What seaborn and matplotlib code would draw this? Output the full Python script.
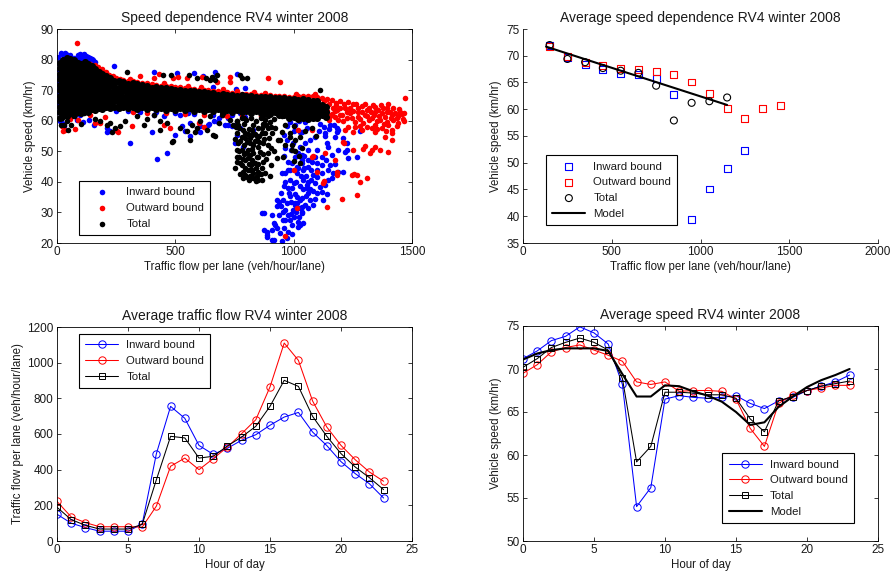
import matplotlib
matplotlib.use("Agg")
import matplotlib.pyplot as plt
import seaborn as sns
import numpy as np

sns.set_style("white")
plt.rcParams['font.family'] = ['Liberation Sans', 'DejaVu Sans']
plt.rcParams['text.color'] = '#1a1a1a'
plt.rcParams['axes.labelcolor'] = '#1a1a1a'
plt.rcParams['xtick.color'] = '#1a1a1a'
plt.rcParams['ytick.color'] = '#1a1a1a'

BLUE = '#0000ff'
RED = '#ff0000'
BLACK = '#000000'

series_names = ['Inward bound', 'Outward bound', 'Total']

# ---------------- Panel 1: scatter of speed vs flow ----------------
inward_pts = [
    (4,63),(5,65),(4,67),(5,69),(4,71),(5,73),(4,75),(5,77),(4,79),(6,81),(15,82),(25,81.6),(32,82.2),
    (40,81.8),(48,80.9),(55,81.4),(20,79.8),(35,80.4),(62,80.2),(72,80.6),(82,80.2),(90,81.4),(98,81.9),
    (106,81.2),(114,81.7),(122,81.3),(130,81.0),(138,80.6),(146,80.2),(154,79.7),(100,80.3),(118,80.2),
    (134,79.8),(160,79.3),(88,79.6),(15,61),(22,59.3),(28,58.4),(42,61.6),(49,63.4),(85,60.3),(99,62),
    (111,59.7),(134,60.3),(155,58.7),(182,64),(208,64.9),(211,57.6),(225,56.5),(246,66.3),(239,77.8),(12,60),
    (408,75.8),(505,75.5),(578,75.7),(615,74.5),(659,71.1),(667,76.0),(672,74.8),(759,75.2),(794,70.6),(756,70.4),
    (210,56.4),(310,52.8),(421,47.4),(466,49.3),(400,56.4),(499,55.3),(542,56.5),(563,55.1),(606,58.2),
    (528,58.2),(352,63.6),(408,62),(451,61.4),(520,61.9),(553,62.5),(562,59.3),(604,56.3),(638,58.6),
    (680,59.6),(710,58.6),(739,62.5),(752,58.6),(773,57.6),(794,61.2),(697,62.8),(722,60.9),(662,59.8),
    (746,64.7),(683,60.9),(641,59.0),(775,62.5),(722,58.7),(760,55.4),(754,52.7),(739,58.2),(787,51.5),(829,57),
    (350,62.9),(420,62.7),(500,62.5),(580,62.2),(660,62.0),(740,61.8),(300,63.2),(250,63.3),
    (984,59.6),(1006,58.6),(1035,56.3),(972,58.2),(1000,56.5),(958,55.4),(1056,57.6),(1106,56.5),(1134,54.9),
    (1155,58.7),(1183,57.6),(1021,59.8),(1085,62),(972,53.8),(1048,59.7),(1111,59.0),(1130,58.0),(1150,57.2),
    (1170,58.6),(1187,57.0),(1280,56.6),(1027,56.4),(1090,54.8),(1132,55.9),(1174,54.8),(1182,56.4),(1210,54.2),
    (1225,50.5),(1268,48.1),(1224,52.6),
    (1146,51.5),(1097,50.4),(1062,50.4),(1019,49.3),(1034,47.1),(1076,46.6),(1118,48.2),(1161,48.8),(1189,50.4),
    (1231,47.7),(1217,49.9),(1041,43.9),(1013,42.8),(1083,42.2),(1118,42.8),(1146,43.9),(1167,42.8),(1189,43.3),
    (1210,43.3),(1062,40.0),(1090,39.5),(1111,38.4),(1132,38.9),(1146,40.6),(1161,41.1),(1055,37.9),(1062,36.3),
    (1118,36.8),(1034,34.6),(1069,34.1),(1090,34.3),(1125,34.1),(1013,33.0),(1048,32.4),(1027,31.3),(1006,30.8),
    (1034,29.7),(1019,27.0),(1013,45.0),(1062,45.0),(1097,46.1),(1048,52.6),(1069,53.7),(1139,52.6),
    (867,29.7),(886,23.7),(910,24.2),(886,21.9),(918,21.0),(921,25.9),(946,36.3),(963,30.8),(977,29.2),(984,27.6),
    (992,25.9),(963,27.6),(998,30.8),(1007,33.2),(1027,34.1),(1034,31.9),(977,37.9),(984,40.6),(963,42.8),
    (977,46.6),(992,46.1),(984,43.9),(1034,46.1),(1034,48.8),(1027,51.5),(998,52.6),(970,21.5),(953,34.1),
    (939,33.5),(1006,32.4),(1034,30.2),(1041,26.5),(1022,28.6),(1019,25.3),
    (951,42.9),(958,38.5),(979,36.3),(930,32),(908,29.3),(915,26.7),(944,23.3),(887,22.7),(908,20.9),(873,24.4),
    (873,29.8),(930,34.2),
    (995,38),(1010,40),(1025,38.5),(1040,40.5),(1050,42),(1075,40.5),(1080,37),(1100,41.5),(1005,36),(990,33.5),
    (1050,35.5),(1060,31.5),(1080,32.5),(1100,36.5),(1020,44.5),(1045,48.5),(1090,48),(1120,45.5),(1135,47),
    (1155,45.5),(1175,46),(1005,48),(990,50.5),(960,48.5),(965,51),(1000,28.5),(955,30),(940,29),(930,25),
    (960,25),(975,23.5),(950,20.5),(995,23),(1040,37.5),(1140,36),(1100,44),
    (970,33),(985,35.5),(1000,39.5),(1015,35),(1030,42),(1045,44.5),(1060,47),(1075,44),(1010,30),(1025,26),
    (990,29.5),(955,27.5),(945,32),(965,40),(975,44),(1055,39),(1070,37.5),
]

outward_pts = [
    (85,85.4),
    (140,78.4),(160,78.3),(175,77.6),(190,76.8),(205,75.8),(220,75.1),(235,74.5),(250,74.1),(265,73.7),(280,73.4),
    (300,73.0),(320,72.9),(340,72.6),(360,72.4),(380,72.2),(400,71.9),(420,71.7),(440,71.5),(460,71.3),(480,71.2),
    (500,71.0),(520,70.9),(540,70.6),(560,70.5),(580,70.3),(600,70.2),(620,70.0),(640,69.9),(660,69.8),(680,69.6),
    (700,69.5),(720,69.3),(740,69.2),(760,69.0),(780,68.9),(800,68.9),(820,68.7),(840,68.5),(860,68.5),(880,68.4),
    (900,68.3),(920,68.2),(940,68.1),(960,68.0),(980,67.9),(1000,67.9),(1020,68.0),(1040,68.1),(1060,68.0),
    (1080,68.0),(1100,67.8),(1120,67.5),(1140,67.0),
    (310,73.8),(450,72.3),(610,71),(760,69.8),(880,69.2),(1010,68.6),(1090,68.6),(555,71.4),(700,70.3),
    (513,74.4),(548,73.9),(611,74.4),(676,72.8),(731,74.4),(731,72.8),(893,73.9),(942,72.8),(834,69.5),
    (408,74),(490,74),(430,75.4),(352,74.7),
    (21,58.2),(35,57.1),(77,57.3),(87,60.3),(155,63.6),(204,61.1),(254,56.5),(317,58.2),(451,58.7),(479,57.6),
    (599,59.2),(623,57.8),(718,61.4),(56,60.5),(183,59.2),(27,56.6),(259,56.4),(139,61.9),(161,59.2),
    (320,63.0),(380,62.6),(460,62.4),(540,62.2),(620,62.0),(700,61.8),(780,61.6),(860,61.7),
    (1020,57),(1076,57),(1130,66.6),(1150,65.6),(1165,64.3),(1140,63.2),(1160,62.3),(1180,65.9),(1185,63.4),
    (1175,61.2),(1150,60.2),(1195,62.0),(1125,64.8),(1130,61.5),
    (1160,66.8),(1195,66.3),(1230,66.0),(1178,65.1),(1212,65.4),(1252,65.4),(1287,64.9),(1336,65.0),(1370,65.2),
    (1400,65.5),(1196,64.3),(1217,64.1),(1270,64.0),(1308,63.6),(1358,63.6),(1379,64.1),(1420,64.3),(1445,63.8),
    (1175,63.3),(1238,62.6),(1250,63.3),(1290,62.9),(1325,62.7),(1345,63.0),(1395,62.9),(1407,63.0),(1428,62.4),
    (1456,62.1),(1203,61.9),(1273,61.3),(1301,61.9),(1329,60.8),(1360,61.6),(1385,61.3),(1440,61.5),(1225,61.0),
    (1155,61.4),(1189,60.2),(1259,59.7),(1294,59.2),(1344,58.6),(1365,60.2),(1393,59.7),(1421,60.2),(1442,59.2),
    (1210,59.8),(1320,60.1),(1460,60.5),(1231,58.1),(1372,57.5),(1414,57.0),(1280,58.3),(1310,58.0),(1400,58.6),
    (1435,58.2),(1470,67.5),(1465,62.5),(1465,60.0),
    (1265,65.6),(1300,65.6),(1320,64.2),(1345,64.6),(1395,64.3),(1240,64.0),(1225,63.0),(1270,62.8),(1310,61.5),
    (1340,62.0),(1375,62.6),(1415,61.8),(1450,62.9),(1245,60.8),(1280,60.6),(1350,59.9),(1380,59.0),(1410,60.9),
    (1435,60.8),(1260,57.8),(1330,57.5),(1390,56.6),(1350,57.2),
    (1217,57),(1252,56.4),(1287,57),(1344,56.4),(1386,54.8),(1414,55.9),(1414,53.7),(1210,53.2),
    (1252,50.4),(1294,50.9),(1322,49.5),(1344,51.5),(1365,50.4),(1400,49.9),(1175,47.1),(1132,49.3),(1076,48.2),
    (1182,43.3),(1182,42.2),(1245,42.2),(1266,42.2),(1280,40.1),(1308,41.2),(1266,35.7),(1203,34.3),(1139,31.9),
    (1097,43.3),(1125,39.7),(1013,31.3),(1331,50.5),(1303,51.6),(1211,52.7),(1256,42.7),(1127,40.2),
    (1082,48.4),(965,22.2),(1003,43.8),
]

total_band = [
    (12, [61.0,62.8,64.6,66.4,68.2,70.0,71.8,73.6,75.4,77.2,79.0]),
    (27, [61.9,63.7,65.5,67.3,69.1,70.9,72.7,74.5,76.3,78.1,79.9]),
    (42, [61.5,63.3,65.1,66.9,68.7,70.5,72.3,74.1,75.9,77.7,79.5,80.4]),
    (57, [62.4,64.2,66.0,67.8,69.6,71.4,73.2,75.0,76.8,78.6,80.2]),
    (72, [62.0,63.8,65.6,67.4,69.2,71.0,72.8,74.6,76.4,78.2,79.8]),
    (87, [62.9,64.7,66.5,68.3,70.1,71.9,73.7,75.5,77.3,79.0]),
    (102, [62.5,64.3,66.1,67.9,69.7,71.5,73.3,75.1,76.9,78.7]),
    (117, [63.4,65.2,67.0,68.8,70.6,72.4,74.2,76.0,77.8,79.2]),
    (132, [63.0,64.8,66.6,68.4,70.2,72.0,73.8,75.6,77.4,78.6]),
    (147, [63.8,65.6,67.4,69.2,71.0,72.8,74.6,76.4,77.8]),
    (162, [63.4,65.2,67.0,68.8,70.6,72.4,74.2,76.0,77.0]),
    (177, [64.2,66.0,67.8,69.6,71.4,73.2,75.0,76.0]),
    (192, [63.8,65.6,67.4,69.2,71.0,72.8,74.6,75.3]),
    (207, [64.5,66.3,68.1,69.9,71.7,73.5,74.5]),
    (222, [64.0,65.8,67.6,69.4,71.2,73.0,74.0]),
    (240, [64.6,66.3,68.0,69.7,71.4,73.1]),
    (260, [64.0,65.7,67.4,69.1,70.8,72.5,73.0]),
    (280, [64.5,66.2,67.9,69.6,71.3,72.6]),
    (300, [64.0,65.6,67.2,68.8,70.4,72.0]),
    (320, [64.6,66.2,67.8,69.4,71.0,72.2]),
    (340, [63.9,65.5,67.1,68.7,70.3,71.9]),
    (360, [64.5,66.1,67.7,69.3,70.9,71.6]),
    (380, [63.8,65.4,67.0,68.6,70.2,71.4]),
    (400, [64.4,66.0,67.6,69.2,70.8]),
    (420, [63.7,65.3,66.9,68.5,70.1,71.0]),
    (440, [64.3,65.9,67.5,69.1,70.6]),
    (460, [63.6,65.2,66.8,68.4,70.0,70.6]),
    (480, [64.2,65.8,67.4,69.0,70.3]),
    (500, [63.5,65.1,66.7,68.3,69.9]),
    (520, [64.1,65.7,67.3,68.9,70.1]),
    (540, [63.4,65.0,66.6,68.2,69.8]),
    (560, [64.0,65.6,67.2,68.8,69.7]),
    (580, [63.3,64.9,66.5,68.1,69.6]),
    (600, [63.9,65.5,67.1,68.7,69.4]),
    (620, [63.2,64.8,66.4,68.0,69.3]),
    (640, [63.8,65.4,67.0,68.6,69.2]),
    (660, [63.1,64.7,66.3,67.9,69.0]),
    (680, [63.7,65.3,66.9,68.5]),
    (700, [63.0,64.6,66.2,67.8,68.8]),
    (720, [63.6,65.2,66.8,68.4]),
    (740, [62.8,64.4,66.0,67.6,68.5]),
    (760, [63.4,65.0,66.6,68.2]),
    (780, [62.7,64.3,65.9,67.5,68.3]),
    (800, [63.2,64.8,66.4,68.0]),
    (820, [62.5,64.1,65.7,67.3,68.1]),
    (840, [63.1,64.7,66.3,67.9]),
    (860, [62.4,64.0,65.6,67.2,67.9]),
    (880, [63.0,64.6,66.2,67.7]),
    (900, [62.3,63.9,65.5,67.1,67.8]),
    (920, [62.8,64.4,66.0,67.5]),
    (940, [61.8,63.4,65.0,66.6,67.5]),
    (960, [61.9,63.5,65.1,66.7,67.3]),
    (980, [60.8,62.4,64.0,65.6,67.2]),
    (1000, [61.2,62.8,64.4,66.0,67.2]),
    (1020, [60.5,62.1,63.7,65.3,66.9]),
    (1040, [61.0,62.6,64.2,65.8,67.0]),
    (1060, [60.5,62.1,63.7,65.3,66.8]),
    (1080, [61.0,62.6,64.2,65.8,66.6]),
    (1100, [60.8,62.4,64.0,65.6,66.3]),
    (1120, [62.0,63.6,65.2]),
    (1136, [61.2,63.0,64.6]),
]

total_pts = [
    (296,75.8),(448,75.1),(482,75.1),(559,75),(590,73.9),(630,74),(648,73.4),(654,74.4),(667,73.3),(675,75),
    (775,75.1),(780,73.9),(802,73.9),(1113,70.1),
    (21,60.9),(28,58.7),(42,59.8),(70,61.4),(113,62.5),(183,59.8),(211,58.7),(225,59.2),(246,57.6),(268,58.2),
    (289,59.8),(338,61.4),(366,58.7),(380,60.6),(408,62),(437,59.8),(465,59.2),(490,53.3),(521,57.6),(549,56.5),
    (570,58.7),(592,57.6),(606,59.8),(634,57.1),(648,61.4),(669,54.9),(683,59.2),(697,62),(732,60.3),(761,59.8),
    (789,60.9),(231,56.4),(435,57),(485,53.1),(562,53.7),(583,56.4),(660,55.3),(15,58.5),(45,57.0),(60,58.5),
    (100,59),(160,60.5),
    (759,48.2),(773,46.1),(787,43.3),(801,41.7),(829,41.2),(865,40.6),(787,41.2),(815,43.9),(851,43.3),(836,46.1),
    (872,46.6),(808,47.7),(780,50.4),(822,50.9),(858,49.9),(801,53.1),(843,53.7),(872,52.6),(822,55.3),(780,54.8),
    (865,55.9),(766,52.6),(794,47.1),(815,48.8),(752,44.4),(829,42.8),(879,42.8),(851,40.6),(808,50.4),(843,48.2),
    (965,58.7),(986,56),(1000,58.2),(993,52.2),(1007,50),(1000,46.7),(1021,48.3),(1035,51.1),(1028,46.2),
    (1049,56.5),(1077,57.6),(1096,55.1),(915,50),(930,47.8),(944,53.8),(923,57.6),(951,61.6),(949,56.4),
    (984,54.8),(1005,53.7),(963,52.1),(991,50.4),(1027,54.8),(935,53.7),(956,48.2),
    (770,57.5),(790,58.8),(810,57.2),(830,58.5),(850,57.5),(870,58.8),(890,57.5),(760,60.0),(780,61.0),(800,60.2),
    (820,61.0),(840,60.0),(860,61.0),(880,60.3),(900,59.5),(795,56.0),(835,55.8),(855,53.2),(815,52.8),(790,52.0),
    (830,52.0),(850,51.5),(770,50.0),(800,49.5),(825,47.0),(850,46.0),(780,45.5),(760,46.5),(795,44.5),(840,44.5),
    (820,45.5),(865,44.5),(890,49.5),(895,54.5),(910,56.0),(905,45.5),(900,42),(775,42.5),(810,40.5),(840,40.2),
    (760,56),(745,58.5),(885,47.5),(880,56),
    (765,58.5),(785,57),(805,55.5),(825,57),(845,55),(865,57.5),(775,53.5),(795,54.5),(815,54.5),(835,53.5),
    (855,55),(875,54),(770,48),(790,49),(810,46),(830,49.5),(850,48),(870,49),(785,47.5),(805,44),(825,44),
    (845,42),(860,42.5),(795,42.2),(815,42),(890,52),(905,58),(885,58.5),(905,51),(760,50.5),(750,54),(755,58),
    (870,61.5),(890,61.5),(915,60.5),
]

# ---------------- Panel 2: binned average speed vs flow ----------------
bin_flow_in = [150, 250, 350, 450, 550, 650, 750, 850, 950, 1050, 1150, 1250]
avg_speed_in = [71.9, 69.6, 68.3, 67.4, 66.7, 66.5, 65.7, 62.7, 39.4, 45.1, 49.0, 52.3]
bin_flow_out = [150, 250, 350, 450, 550, 650, 750, 850, 950, 1050, 1150, 1250, 1350, 1450]
avg_speed_out = [71.8, 69.8, 68.8, 68.2, 67.6, 67.4, 67.0, 66.5, 65.1, 63.0, 60.1, 58.2, 60.1, 60.7]
bin_flow_tot = [150, 250, 350, 450, 550, 650, 750, 850, 950, 1050, 1150]
avg_speed_tot = [72.0, 69.4, 68.8, 67.7, 67.2, 66.8, 64.4, 57.9, 61.2, 61.5, 62.2]
model_flow = [130, 1150]
model_speed = [71.7, 60.8]

# ---------------- Panel 3 & 4: hourly ----------------
hours = list(range(24))
flow_in = [150, 100, 75, 55, 55, 55, 95, 490, 755, 688, 536, 486, 520, 565, 596, 649, 695, 721, 611, 535, 445, 378, 321, 241]
flow_out = [222, 135, 103, 80, 80, 80, 78, 196, 419, 465, 400, 462, 527, 602, 680, 864, 1110, 1013, 785, 639, 536, 456, 387, 335]
flow_tot = [189, 120, 88, 67, 67, 67, 93, 344, 587, 578, 465, 475, 533, 583, 643, 755, 901, 867, 699, 587, 490, 415, 355, 288]

speed_in = [71.2, 72.1, 73.3, 73.8, 74.9, 74.2, 72.9, 68.2, 54.0, 56.2, 66.5, 66.9, 66.7, 66.6, 66.7, 66.9, 66.0, 65.4, 66.3, 66.7, 67.5, 68.0, 68.5, 69.3]
speed_out = [69.5, 70.5, 72.0, 72.5, 72.8, 72.2, 71.6, 70.9, 68.5, 68.2, 68.5, 67.4, 67.5, 67.5, 67.4, 66.5, 63.1, 61.0, 66.0, 67.0, 67.5, 67.8, 68.1, 68.1]
speed_tot = [70.2, 71.2, 72.5, 73.1, 73.6, 73.1, 72.2, 68.9, 59.2, 61.0, 67.3, 67.3, 67.2, 67.0, 67.0, 66.6, 64.2, 62.7, 66.3, 66.8, 67.5, 68.0, 68.3, 68.6]
speed_model = [71.1, 71.8, 72.2, 72.4, 72.4, 72.4, 72.1, 69.4, 66.8, 66.8, 68.1, 68.0, 67.4, 66.9, 66.2, 65.0, 63.5, 63.8, 65.6, 66.8, 67.9, 68.7, 69.3, 70.0]

# ---------------- Figure ----------------
W, H = 890, 577
fig = plt.figure(figsize=(W / 100, H / 100), dpi=100)

def px_axes(l, t, r, b):
    return fig.add_axes([l / W, 1 - b / H, (r - l) / W, (b - t) / H])

ax1 = px_axes(57, 29, 412, 243)
ax2 = px_axes(523, 29, 878, 243)
ax3 = px_axes(57, 327, 412, 541)
ax4 = px_axes(523, 326, 878, 541)

TICK_FS = 8.5
LABEL_FS = 8.3
TITLE_FS = 10
LEG_FS = 8.2

def style_axes(ax, box=True):
    for side in ['left', 'bottom', 'top', 'right']:
        ax.spines[side].set_color('black')
        ax.spines[side].set_linewidth(0.6)
    if not box:
        ax.spines['top'].set_visible(False)
        ax.spines['right'].set_visible(False)
    ax.tick_params(direction='in', length=3, width=0.6, labelsize=TICK_FS,
                   top=box, right=box, bottom=True, left=True, pad=2.5)

def legend(ax, handles, labels, loc, anchor):
    leg = ax.legend(handles, labels, loc=loc, bbox_to_anchor=anchor, fontsize=LEG_FS,
                    frameon=True, fancybox=False, framealpha=1, edgecolor='black',
                    borderaxespad=0, handlelength=2.9, handletextpad=0.7,
                    borderpad=0.55, labelspacing=0.5, scatterpoints=1)
    leg.get_frame().set_linewidth(0.8)
    return leg

def unzip(pts):
    return np.array([p[0] for p in pts], float), np.array([p[1] for p in pts], float)

# Panel 1
bx, by = unzip(inward_pts)
rx, ry = unzip(outward_pts)
band_x, band_y = [], []
for x, ys in total_band:
    for y in ys:
        band_x.append(x)
        band_y.append(y)
ox, oy = unzip(total_pts)

S = 16
sns.scatterplot(x=bx, y=by, ax=ax1, color=BLUE, s=S, linewidth=0, label=series_names[0])
sns.scatterplot(x=rx, y=ry, ax=ax1, color=RED, s=S, linewidth=0, label=series_names[1])
sns.scatterplot(x=ox, y=oy, ax=ax1, color=BLACK, s=S, linewidth=0, label=series_names[2])
# the dense core of the Total cloud (overlapping dots)
sns.scatterplot(x=np.array(band_x, float), y=np.array(band_y, float), ax=ax1, color=BLACK,
                s=26, linewidth=0)
ax1.set_xlim(0, 1500)
ax1.set_ylim(20, 90)
ax1.set_xticks([0, 500, 1000, 1500])
ax1.set_yticks(range(20, 91, 10))
style_axes(ax1)
ax1.set_title('Speed dependence RV4 winter 2008', fontsize=TITLE_FS, pad=5)
ax1.set_xlabel('Traffic flow per lane (veh/hour/lane)', fontsize=LABEL_FS, labelpad=2)
ax1.set_ylabel('Vehicle speed (km/hr)', fontsize=LABEL_FS, labelpad=3)
h1 = ax1.collections[:3]
legend(ax1, h1, series_names, 'lower left', (0.062, 0.037))

# Panel 2
MS2 = 24
sns.scatterplot(x=bin_flow_in, y=avg_speed_in, ax=ax2, marker='s', s=MS2, color=BLUE,
                facecolor='none', edgecolor=BLUE, linewidth=0.8)
sns.scatterplot(x=bin_flow_out, y=avg_speed_out, ax=ax2, marker='s', s=MS2, color=RED,
                facecolor='none', edgecolor=RED, linewidth=0.8)
sns.scatterplot(x=bin_flow_tot, y=avg_speed_tot, ax=ax2, marker='o', s=MS2 * 1.05, color=BLACK,
                facecolor='none', edgecolor=BLACK, linewidth=0.8)
sns.lineplot(x=model_flow, y=model_speed, ax=ax2, color=BLACK, linewidth=1.5)
ax2.set_xlim(0, 2000)
ax2.set_ylim(35, 75)
ax2.set_xticks([0, 500, 1000, 1500, 2000])
ax2.set_yticks(range(35, 76, 5))
style_axes(ax2, box=False)
ax2.set_title('Average speed dependence RV4 winter 2008', fontsize=TITLE_FS, pad=5)
ax2.set_xlabel('Traffic flow per lane (veh/hour/lane)', fontsize=LABEL_FS, labelpad=2)
ax2.set_ylabel('Vehicle speed (km/hr)', fontsize=LABEL_FS, labelpad=3)
h2 = list(ax2.collections[:3]) + [ax2.lines[0]]
legend(ax2, h2, series_names + ['Model'], 'lower left', (0.065, 0.084))

# Panel 3
MS = 5.3
LW = 0.75
for vals, col, mk in [(flow_in, BLUE, 'o'), (flow_out, RED, 'o'), (flow_tot, BLACK, 's')]:
    sns.lineplot(x=hours, y=vals, ax=ax3, color=col, linewidth=LW, marker=mk,
                 markersize=MS if mk == 'o' else MS * 0.95, markerfacecolor='none',
                 markeredgecolor=col, markeredgewidth=0.7)
ax3.set_xlim(0, 25)
ax3.set_ylim(0, 1200)
ax3.set_xticks(range(0, 26, 5))
ax3.set_yticks(range(0, 1201, 200))
style_axes(ax3)
ax3.set_title('Average traffic flow RV4 winter 2008', fontsize=TITLE_FS, pad=5)
ax3.set_xlabel('Hour of day', fontsize=LABEL_FS, labelpad=2)
ax3.set_ylabel('Traffic flow per lane (veh/hour/lane)', fontsize=LABEL_FS, labelpad=2)
legend(ax3, ax3.lines[:3], series_names, 'upper left', (0.062, 0.967))

# Panel 4
for vals, col, mk in [(speed_in, BLUE, 'o'), (speed_out, RED, 'o'), (speed_tot, BLACK, 's')]:
    sns.lineplot(x=hours, y=vals, ax=ax4, color=col, linewidth=LW, marker=mk,
                 markersize=MS if mk == 'o' else MS * 0.95, markerfacecolor='none',
                 markeredgecolor=col, markeredgewidth=0.7)
sns.lineplot(x=hours, y=speed_model, ax=ax4, color=BLACK, linewidth=1.5)
ax4.set_xlim(0, 25)
ax4.set_ylim(50, 75)
ax4.set_xticks(range(0, 26, 5))
ax4.set_yticks(range(50, 76, 5))
style_axes(ax4)
ax4.set_title('Average speed RV4 winter 2008', fontsize=TITLE_FS, pad=5)
ax4.set_xlabel('Hour of day', fontsize=LABEL_FS, labelpad=2)
ax4.set_ylabel('Vehicle speed (km/hr)', fontsize=LABEL_FS, labelpad=3)
legend(ax4, ax4.lines[:4], series_names + ['Model'], 'lower right', (0.932, 0.084))

fig.savefig('out.png', dpi=100)
